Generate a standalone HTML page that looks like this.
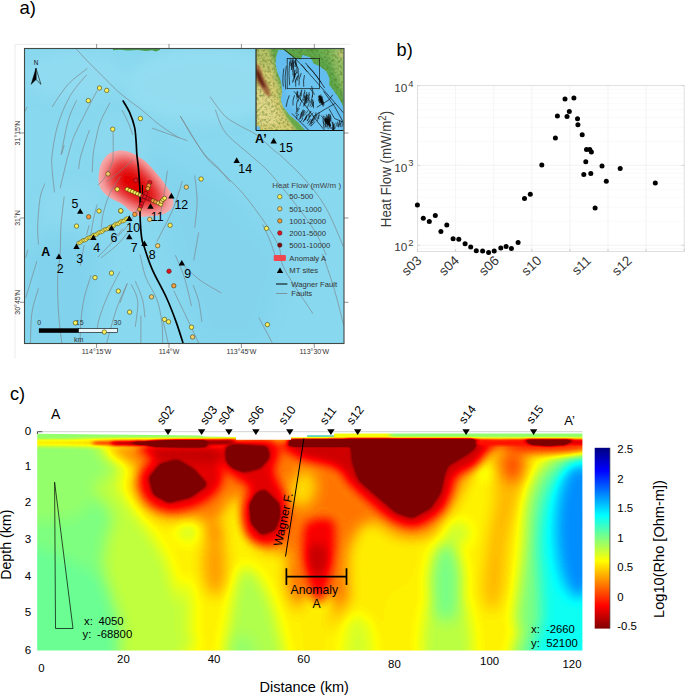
<!DOCTYPE html>
<html><head><meta charset="utf-8"><title>Figure</title>
<style>html,body{margin:0;padding:0;background:#fff}svg{display:block}text{font-family:"Liberation Sans",sans-serif}</style>
</head><body>
<svg width="685" height="695" viewBox="0 0 685 695">
<rect width="685" height="695" fill="#fff"/>

<defs>
<clipPath id="mapclip"><rect x="24.5" y="48.5" width="319.5" height="295"/></clipPath>
<clipPath id="insclip"><rect x="256" y="49" width="87.6" height="81.5"/></clipPath>
<clipPath id="hmclip"><rect x="37.2" y="431" width="545.2" height="219.6"/></clipPath>
<filter id="b8" x="-20%" y="-20%" width="140%" height="140%"><feGaussianBlur stdDeviation="7"/></filter>
<filter id="b6" x="-30%" y="-30%" width="160%" height="160%"><feGaussianBlur stdDeviation="5.5"/></filter>
<filter id="bz20" x="-20%" y="-20%" width="140%" height="140%"><feGaussianBlur stdDeviation="18"/></filter>
<filter id="bz8" x="-20%" y="-20%" width="140%" height="140%"><feGaussianBlur stdDeviation="7"/></filter>
<filter id="mott" x="0" y="0" width="100%" height="100%" color-interpolation-filters="sRGB"><feTurbulence type="fractalNoise" baseFrequency="0.05" numOctaves="3" seed="5" result="n"/><feColorMatrix in="n" type="matrix" values="0 0 0 0 0.28  0 0 0 0 0.42  0 0 0 0 0.12  0 0 0 1.3 -0.55"/></filter>
<filter id="blA" filterUnits="userSpaceOnUse" x="-40" y="385" width="765" height="330" color-interpolation-filters="sRGB"><feGaussianBlur stdDeviation="7"/></filter>
<filter id="blB" filterUnits="userSpaceOnUse" x="-40" y="385" width="765" height="330" color-interpolation-filters="sRGB"><feGaussianBlur stdDeviation="5"/></filter>
<filter id="blB2" filterUnits="userSpaceOnUse" x="-40" y="385" width="765" height="330" color-interpolation-filters="sRGB"><feGaussianBlur stdDeviation="2.2"/></filter>
<filter id="blC" filterUnits="userSpaceOnUse" x="-40" y="385" width="765" height="330" color-interpolation-filters="sRGB"><feGaussianBlur stdDeviation="2.5 0.9"/></filter>
<filter id="jet" filterUnits="userSpaceOnUse" x="-40" y="385" width="765" height="330" color-interpolation-filters="sRGB">
<feComponentTransfer>
<feFuncR type="table" tableValues="0 0 0 0 0.5 1 1 1 0.5 0.5 0.5"/>
<feFuncG type="table" tableValues="0 0 0.5 1 1 1 0.5 0 0 0 0"/>
<feFuncB type="table" tableValues="0.5 1 1 1 0.5 0 0 0 0 0 0"/>
</feComponentTransfer>
</filter>
<linearGradient id="cbar" x1="0" y1="0" x2="0" y2="1">
<stop offset="0" stop-color="#000080"/><stop offset="0.125" stop-color="#0000ff"/><stop offset="0.375" stop-color="#00ffff"/><stop offset="0.5" stop-color="#80ff80"/>
<stop offset="0.625" stop-color="#ffff00"/><stop offset="0.875" stop-color="#ff0000"/><stop offset="1" stop-color="#800000"/>
</linearGradient>
</defs>
<text x="19.5" y="13.6" font-size="18.6" fill="#000">a)</text>
<path d="M15 358.5 V44.3 H350" fill="none" stroke="#ebebeb" stroke-width="1"/>
<path d="M96.6 44 V49 M96.6 343 V348 M169.0 44 V49 M169.0 343 V348 M241.4 44 V49 M241.4 343 V348 M314.3 44 V49 M314.3 343 V348 M20 133.0 H25 M343.5 133.0 H348.5 M20 218.0 H25 M343.5 218.0 H348.5 M20 302.3 H25 M343.5 302.3 H348.5 " stroke="#777" stroke-width="0.8" fill="none"/>
<g clip-path="url(#mapclip)">
<rect x="24" y="48" width="320.5" height="296" fill="#88d8ef"/>
<g filter="url(#b8)" opacity="0.8">
<ellipse cx="205" cy="85" rx="80" ry="38" fill="#96def1"/>
<ellipse cx="75" cy="75" rx="50" ry="25" fill="#93dcf1"/>
<ellipse cx="120" cy="140" rx="30" ry="22" fill="#8dd9ef"/>
<path d="M24 250 L60 230 L100 250 L90 344 L24 344 Z" fill="#80d1ec"/>
<path d="M150 150 L230 190 L290 260 L260 344 L200 344 L170 250 Z" fill="#82d3ed"/>
<ellipse cx="70" cy="205" rx="30" ry="20" fill="#8fdaf0"/>
</g>
<path d="M113 48.5 H160 V49.8 L156 51.4 L152 50.2 L146 50.9 L138 50.0 L128 50.6 L120 49.8 L113 50.2 Z" fill="#4a9a48"/>
<clipPath id="blobclip"><path d="M98.5 177.9 C98.8 174.7 99.1 168.7 100.5 165.0 C101.9 161.3 104.6 157.9 106.7 155.7 C108.8 153.5 110.7 152.8 113.0 152.0 C115.3 151.2 118.0 150.6 120.7 150.6 C123.4 150.6 126.3 151.2 129.0 152.0 C131.7 152.8 134.3 154.0 137.1 155.7 C139.9 157.4 143.3 159.7 146.0 162.0 C148.7 164.3 151.0 167.0 153.4 169.7 C155.8 172.4 158.3 175.3 160.5 178.0 C162.7 180.7 164.6 183.6 166.3 186.1 C168.1 188.6 169.8 190.7 171.0 193.0 C172.2 195.3 173.0 197.9 173.3 200.1 C173.6 202.3 173.6 204.2 173.0 206.0 C172.4 207.8 171.2 209.3 169.8 210.6 C168.4 211.9 166.4 213.0 164.5 213.8 C162.6 214.6 160.7 215.1 158.1 215.6 C155.5 216.1 152.1 216.5 149.0 216.6 C145.9 216.7 142.4 217.0 139.4 216.2 C136.4 215.3 133.7 213.4 131.0 211.5 C128.3 209.6 125.8 206.6 123.1 204.7 C120.3 202.8 117.2 201.9 114.5 200.3 C111.8 198.8 108.9 197.1 106.7 195.4 C104.5 193.7 102.8 191.9 101.5 190.0 C100.2 188.1 99.5 186.0 99.0 184.0 C98.5 182.0 98.2 181.1 98.5 177.9 Z"/></clipPath>
<path d="M98.5 177.9 C98.8 174.7 99.1 168.7 100.5 165.0 C101.9 161.3 104.6 157.9 106.7 155.7 C108.8 153.5 110.7 152.8 113.0 152.0 C115.3 151.2 118.0 150.6 120.7 150.6 C123.4 150.6 126.3 151.2 129.0 152.0 C131.7 152.8 134.3 154.0 137.1 155.7 C139.9 157.4 143.3 159.7 146.0 162.0 C148.7 164.3 151.0 167.0 153.4 169.7 C155.8 172.4 158.3 175.3 160.5 178.0 C162.7 180.7 164.6 183.6 166.3 186.1 C168.1 188.6 169.8 190.7 171.0 193.0 C172.2 195.3 173.0 197.9 173.3 200.1 C173.6 202.3 173.6 204.2 173.0 206.0 C172.4 207.8 171.2 209.3 169.8 210.6 C168.4 211.9 166.4 213.0 164.5 213.8 C162.6 214.6 160.7 215.1 158.1 215.6 C155.5 216.1 152.1 216.5 149.0 216.6 C145.9 216.7 142.4 217.0 139.4 216.2 C136.4 215.3 133.7 213.4 131.0 211.5 C128.3 209.6 125.8 206.6 123.1 204.7 C120.3 202.8 117.2 201.9 114.5 200.3 C111.8 198.8 108.9 197.1 106.7 195.4 C104.5 193.7 102.8 191.9 101.5 190.0 C100.2 188.1 99.5 186.0 99.0 184.0 C98.5 182.0 98.2 181.1 98.5 177.9 Z" fill="#f5b2b3"/>
<g clip-path="url(#blobclip)"><g filter="url(#b6)">
<path d="M106.0 172.0 C107.0 167.5 110.3 161.5 114.0 159.0 C117.7 156.5 123.0 155.7 128.0 157.0 C133.0 158.3 139.2 162.8 144.0 167.0 C148.8 171.2 153.5 176.8 157.0 182.0 C160.5 187.2 164.2 193.7 165.0 198.0 C165.8 202.3 164.8 206.0 162.0 208.0 C159.2 210.0 152.7 210.3 148.0 210.0 C143.3 209.7 138.8 208.2 134.0 206.0 C129.2 203.8 123.3 200.3 119.0 197.0 C114.7 193.7 110.2 190.2 108.0 186.0 C105.8 181.8 105.0 176.5 106.0 172.0 Z" fill="#ec4040"/>
<path d="M114.0 174.0 C115.5 170.3 121.5 165.3 126.0 165.0 C130.5 164.7 136.5 168.3 141.0 172.0 C145.5 175.7 150.3 182.3 153.0 187.0 C155.7 191.7 158.2 197.2 157.0 200.0 C155.8 202.8 150.5 204.3 146.0 204.0 C141.5 203.7 134.8 200.8 130.0 198.0 C125.2 195.2 119.7 191.0 117.0 187.0 C114.3 183.0 112.5 177.7 114.0 174.0 Z" fill="#e00404"/>
</g></g>
<path d="M76.2 49.0 C78.3 51.3 84.5 58.0 89.0 62.7 C93.5 67.4 98.9 72.5 103.5 77.1 C108.1 81.6 112.0 86.0 116.4 90.0 C120.8 94.0 125.9 98.0 130.0 101.2 C134.1 104.4 135.9 105.2 140.9 109.2 C145.9 113.2 153.7 120.5 160.1 125.3 C166.5 130.1 176.2 136.0 179.4 138.1 M87.5 68.3 C84.3 71.0 74.1 77.9 68.2 84.3 C62.3 90.7 54.8 103.0 52.1 106.8 M86.6 74.7 C83.8 78.3 74.6 88.0 69.8 96.4 C65.0 104.8 60.7 115.5 57.7 125.3 C54.8 135.1 53.0 147.7 52.1 155.0 C51.2 162.3 51.7 162.9 52.1 169.1 C52.5 175.3 54.1 188.5 54.5 192.4 M76.5 100.4 C75.1 103.8 70.8 111.4 68.2 120.5 C65.6 129.6 62.2 149.2 61.0 155.0 M97.1 90.8 C95.5 93.9 91.2 101.8 87.4 109.2 C83.7 116.6 77.8 127.3 74.6 134.9 C71.4 142.5 69.5 150.6 68.2 155.0 C66.9 159.4 67.9 155.5 66.6 161.1 C65.2 166.7 61.2 183.8 60.1 188.4 M89.4 130.1 C88.0 134.2 82.8 148.5 81.0 155.0 C79.2 161.5 79.0 166.8 78.6 169.1 M109.9 102.8 C108.3 106.0 102.7 115.7 100.3 122.1 C97.9 128.5 96.7 135.9 95.5 141.4 C94.3 146.9 93.6 149.8 93.1 155.0 C92.6 160.2 92.4 169.4 92.3 172.3 M113.1 131.7 C113.1 135.6 113.4 149.6 113.1 155.0 C112.8 160.4 112.8 160.6 111.5 164.3 C110.2 168.0 107.4 173.6 105.1 177.1 C102.8 180.6 99.1 183.8 97.9 185.1 M122.0 110.0 C123.0 112.0 126.2 117.9 128.0 122.1 C129.8 126.2 132.0 132.8 132.8 134.9 M27.2 106.8 L24.8 111.6 M152.1 128.2 L187.4 140.6 M180.2 116.1 C182.2 119.5 188.2 130.0 192.3 136.5 C196.5 143.0 201.1 150.1 205.1 155.0 C209.1 159.9 212.2 161.4 216.4 165.9 C220.6 170.4 227.7 179.2 230.0 181.9 M64.2 145.0 L61.8 153.8 M44.9 183.5 C44.1 185.9 41.3 191.0 40.1 198.0 C38.9 205.0 38.0 217.5 37.7 225.3 C37.4 233.1 38.4 241.4 38.5 244.6 M64.2 196.4 C63.7 201.2 61.7 215.5 61.0 225.3 C60.3 235.1 60.6 246.4 60.1 255.0 C59.6 263.6 58.0 267.5 57.7 277.1 C57.4 286.7 57.8 301.4 58.5 312.4 C59.2 323.4 61.2 337.9 61.8 343.0 M97.1 204.4 C96.6 206.6 95.0 212.2 93.9 217.3 C92.8 222.4 91.2 232.0 90.7 234.9 M120.4 176.3 C118.7 179.1 112.7 187.2 109.9 193.2 C107.1 199.2 105.0 206.5 103.5 212.4 C102.0 218.3 101.5 225.8 101.1 228.5 M132.8 159.5 C131.1 161.1 127.2 165.4 122.8 169.1 C118.4 172.8 109.4 179.8 106.7 181.9 M89.1 225.3 L86.6 234.9 M122.8 228.5 C120.7 231.2 114.1 239.8 109.9 244.6 C105.8 249.3 99.9 254.9 97.9 257.0 M130.0 229.5 C128.0 231.9 122.8 239.3 118.0 244.0 C113.2 248.7 103.9 255.5 101.1 257.8 M167.4 170.7 C166.9 174.4 165.4 185.7 164.2 193.2 C163.0 200.7 160.8 211.9 160.1 215.7 M182.3 181.1 C180.8 185.8 177.2 199.1 173.0 209.2 C168.8 219.2 159.6 236.0 156.9 241.4 M194.7 175.5 C195.1 179.8 197.1 192.5 197.1 201.2 C197.1 209.9 195.1 223.3 194.7 227.7 M198.7 232.5 C198.0 236.2 195.5 250.4 194.7 255.0 C193.9 259.6 194.0 259.4 193.9 260.3 M140.0 205.0 C138.0 208.3 131.7 219.8 128.0 225.0 C124.3 230.2 119.7 234.2 118.0 236.0 M36.9 261.1 C35.7 265.1 31.5 279.0 29.6 285.1 C27.7 291.2 26.3 295.9 25.6 298.0 M38.5 288.4 C37.4 292.4 33.4 303.3 32.0 312.4 C30.6 321.5 30.7 337.9 30.4 343.0 M91.0 275.2 C89.9 279.0 85.9 290.4 84.2 298.0 C82.5 305.6 81.7 313.0 81.0 320.5 C80.3 328.0 80.2 339.2 80.0 343.0 M119.9 271.5 C117.7 275.9 110.2 289.8 106.7 298.0 C103.2 306.2 100.3 314.7 98.7 320.5 C97.1 326.3 97.4 330.9 97.1 333.0 M127.3 283.5 C125.5 287.8 119.8 299.3 116.4 309.2 C113.0 319.1 108.3 337.4 106.7 343.0 M84.2 245.0 L80.2 265.9 M28.0 249.8 L25.6 257.8 M175.4 255.4 C176.9 259.0 181.5 268.7 184.2 277.1 C186.9 285.5 190.3 301.2 191.5 306.0 M184.2 265.9 C186.9 268.3 194.1 275.8 200.3 280.3 C206.5 284.8 217.7 290.8 221.2 292.9 M193.1 285.1 C194.0 287.8 197.2 295.0 198.7 301.2 C200.2 307.4 201.4 318.6 201.9 322.1 M173.8 290.8 C175.5 294.4 180.0 303.7 184.2 312.4 C188.3 321.1 196.3 337.9 198.7 343.0 M140.1 254.6 C141.0 258.4 142.9 269.6 145.7 277.1 C148.5 284.6 154.2 292.1 156.9 299.6 C159.6 307.1 160.9 314.9 161.8 322.1 C162.8 329.3 162.5 339.5 162.6 343.0 M135.3 281.1 C136.5 284.2 140.9 293.6 142.5 299.6 C144.1 305.6 144.5 314.4 144.9 317.3 M131.2 284.3 C132.3 287.1 137.0 294.1 137.7 301.2 C138.4 308.3 135.7 322.6 135.3 326.9 M127.2 283.5 L120.0 302.8 M140.9 315.7 L140.9 343.0 M163.4 322.1 L168.2 343.0 M215.3 109.7 C217.0 113.5 219.6 125.0 225.4 132.5 C231.2 140.1 243.0 148.3 250.3 155.0 C257.6 161.7 261.7 164.1 269.3 172.4 C276.9 180.7 288.3 194.9 295.9 204.7 C303.5 214.5 309.8 222.9 314.9 231.3 C320.0 239.7 324.4 251.1 326.3 255.0 M210.1 96.7 C212.5 99.9 219.8 110.9 224.6 115.7 C229.4 120.5 233.7 122.1 239.0 125.3 C244.3 128.5 251.1 130.9 256.7 134.9 C262.3 138.9 268.5 145.7 272.8 149.4 C277.1 153.1 277.2 152.2 282.6 157.3 C288.0 162.4 298.1 171.5 305.4 180.0 C312.7 188.5 320.0 197.4 326.3 208.5 C332.6 219.6 340.5 240.2 343.4 246.5 M180.4 116.1 C184.4 122.6 197.9 145.9 204.5 155.0 C211.1 164.1 213.6 164.1 220.0 170.5 C226.4 176.9 235.2 184.4 242.8 193.3 C250.4 202.2 259.5 214.8 265.5 223.7 C271.5 232.6 275.6 238.9 278.8 246.5 C282.0 254.1 278.8 258.0 284.5 269.2 C290.2 280.4 308.2 306.4 313.0 313.8 M262.7 224.6 C263.8 227.0 267.2 233.8 269.3 238.9 C271.4 244.0 274.1 252.3 275.0 255.0 M258.9 317.6 L272.2 342.8 M322.5 254.0 C324.4 259.7 330.3 276.1 333.9 288.1 C337.5 300.1 342.3 319.8 344.0 326.1" fill="none" stroke="#7d8488" stroke-width="0.65"/>
<path d="M122.8 100.4 C123.9 102.4 127.6 108.0 129.6 112.4 C131.5 116.8 133.4 122.1 134.5 126.9 C135.6 131.7 135.7 136.7 136.1 141.4 C136.5 146.1 136.5 150.4 136.9 155.0 C137.3 159.6 138.0 162.7 138.5 169.1 C139.0 175.5 139.8 185.2 140.1 193.2 C140.4 201.2 139.8 209.8 140.1 217.3 C140.4 224.8 141.0 233.2 141.7 238.1 C142.4 243.0 142.4 241.4 144.1 246.6 C145.8 251.8 148.3 260.5 152.1 269.1 C155.8 277.7 162.6 289.2 166.6 298.0 C170.6 306.8 173.5 314.6 176.2 322.1 C178.9 329.6 181.9 339.5 183.0 343.0" fill="none" stroke="#000" stroke-width="1.7"/>
<path d="M142.5 185 V195" stroke="#000" stroke-width="1"/>
<rect x="38.9" y="328.3" width="39.7" height="4.5" fill="#000"/>
<rect x="78.6" y="328.6" width="39" height="3.9" fill="#e9f6fb" stroke="#000" stroke-width="0.6"/>
<g font-size="7" fill="#333" text-anchor="middle"><text x="39.3" y="324.6">0</text><text x="79.7" y="324.6">15</text><text x="117.4" y="324.6">30</text><text x="78.6" y="341.6">km</text></g>
<g stroke="#3a3200" stroke-width="0.55">
<circle cx="99.5" cy="88.0" r="2.2" fill="#fdf05a"/>
<circle cx="106.7" cy="90.4" r="2.2" fill="#fdf05a"/>
<circle cx="88.3" cy="100.6" r="2.2" fill="#fdf05a"/>
<circle cx="112.7" cy="129.2" r="2.2" fill="#fdf05a"/>
<circle cx="140.4" cy="118.5" r="2.2" fill="#fdf05a"/>
<circle cx="108.0" cy="173.9" r="2.2" fill="#f9cd6e"/>
<circle cx="117.2" cy="189.2" r="2.2" fill="#fdf05a"/>
<circle cx="99.0" cy="211.0" r="2.2" fill="#fdf05a"/>
<circle cx="120.7" cy="211.0" r="2.2" fill="#fdf05a"/>
<circle cx="88.6" cy="216.8" r="2.2" fill="#f79a3c"/>
<circle cx="76.5" cy="226.1" r="2.2" fill="#fdf05a"/>
<circle cx="135.7" cy="180.3" r="2.2" fill="#e01522" stroke="#5c0808"/>
<circle cx="201.1" cy="179.0" r="2.2" fill="#fdf05a"/>
<circle cx="186.3" cy="187.1" r="2.2" fill="#f9cd6e"/>
<circle cx="134.8" cy="214.4" r="2.2" fill="#f79a3c"/>
<circle cx="149.7" cy="219.4" r="2.2" fill="#f9cd6e"/>
<circle cx="170.1" cy="225.3" r="2.2" fill="#fdf05a"/>
<circle cx="157.7" cy="245.7" r="2.2" fill="#f9cd6e"/>
<circle cx="120.8" cy="210.8" r="2.2" fill="#fdf05a"/>
<circle cx="95.0" cy="277.6" r="2.2" fill="#fdf05a"/>
<circle cx="111.5" cy="273.1" r="2.2" fill="#fdf05a"/>
<circle cx="118.3" cy="291.1" r="2.2" fill="#fdf05a"/>
<circle cx="129.6" cy="312.1" r="2.2" fill="#fdf05a"/>
<circle cx="75.4" cy="322.9" r="2.2" fill="#fdf05a"/>
<circle cx="104.3" cy="332.0" r="2.2" fill="#fdf05a"/>
<circle cx="169.0" cy="271.2" r="2.2" fill="#e01522" stroke="#5c0808"/>
<circle cx="173.8" cy="285.8" r="2.2" fill="#f79a3c"/>
<circle cx="151.5" cy="296.9" r="2.2" fill="#f9cd6e"/>
<circle cx="164.5" cy="319.4" r="2.2" fill="#fdf05a"/>
<circle cx="168.5" cy="321.8" r="2.2" fill="#fdf05a"/>
<circle cx="191.5" cy="327.2" r="2.2" fill="#fdf05a"/>
<circle cx="192.6" cy="337.0" r="2.2" fill="#f9cd6e"/>
<circle cx="266.5" cy="228.4" r="2.2" fill="#fdf05a"/>
<circle cx="267.4" cy="324.6" r="2.2" fill="#fdf05a"/>
<circle cx="78.5" cy="243.0" r="1.8" fill="#fdf05a" stroke-width="0.4"/>
<circle cx="80.0" cy="242.8" r="1.8" fill="#fdf05a" stroke-width="0.4"/>
<circle cx="81.5" cy="241.4" r="1.8" fill="#fdf05a" stroke-width="0.4"/>
<circle cx="83.0" cy="240.3" r="1.8" fill="#fdf05a" stroke-width="0.4"/>
<circle cx="84.4" cy="240.3" r="1.8" fill="#fdf05a" stroke-width="0.4"/>
<circle cx="85.9" cy="239.7" r="1.8" fill="#fdf05a" stroke-width="0.4"/>
<circle cx="87.4" cy="238.2" r="1.8" fill="#fdf05a" stroke-width="0.4"/>
<circle cx="88.9" cy="237.5" r="1.8" fill="#fdf05a" stroke-width="0.4"/>
<circle cx="90.4" cy="237.5" r="1.8" fill="#fdf05a" stroke-width="0.4"/>
<circle cx="91.9" cy="236.5" r="1.8" fill="#fdf05a" stroke-width="0.4"/>
<circle cx="93.3" cy="235.1" r="1.8" fill="#fdf05a" stroke-width="0.4"/>
<circle cx="94.8" cy="234.8" r="1.8" fill="#fdf05a" stroke-width="0.4"/>
<circle cx="96.3" cy="234.6" r="1.8" fill="#fdf05a" stroke-width="0.4"/>
<circle cx="97.8" cy="233.3" r="1.8" fill="#fdf05a" stroke-width="0.4"/>
<circle cx="99.3" cy="232.2" r="1.8" fill="#fdf05a" stroke-width="0.4"/>
<circle cx="100.8" cy="232.1" r="1.8" fill="#fdf05a" stroke-width="0.4"/>
<circle cx="102.3" cy="231.6" r="1.8" fill="#fdf05a" stroke-width="0.4"/>
<circle cx="103.7" cy="230.1" r="1.8" fill="#fdf05a" stroke-width="0.4"/>
<circle cx="105.2" cy="229.3" r="1.8" fill="#fdf05a" stroke-width="0.4"/>
<circle cx="106.7" cy="229.3" r="1.8" fill="#fdf05a" stroke-width="0.4"/>
<circle cx="108.2" cy="228.5" r="1.8" fill="#fdf05a" stroke-width="0.4"/>
<circle cx="109.7" cy="227.0" r="1.8" fill="#fdf05a" stroke-width="0.4"/>
<circle cx="111.2" cy="226.6" r="1.8" fill="#fdf05a" stroke-width="0.4"/>
<circle cx="112.7" cy="226.5" r="1.8" fill="#fdf05a" stroke-width="0.4"/>
<circle cx="114.1" cy="225.3" r="1.8" fill="#fdf05a" stroke-width="0.4"/>
<circle cx="115.6" cy="224.0" r="1.8" fill="#fdf05a" stroke-width="0.4"/>
<circle cx="117.1" cy="223.9" r="1.8" fill="#fdf05a" stroke-width="0.4"/>
<circle cx="118.6" cy="223.5" r="1.8" fill="#fdf05a" stroke-width="0.4"/>
<circle cx="120.1" cy="222.1" r="1.8" fill="#fdf05a" stroke-width="0.4"/>
<circle cx="121.6" cy="221.1" r="1.8" fill="#fdf05a" stroke-width="0.4"/>
<circle cx="123.0" cy="221.2" r="1.8" fill="#fdf05a" stroke-width="0.4"/>
<circle cx="124.5" cy="220.4" r="1.8" fill="#fdf05a" stroke-width="0.4"/>
<circle cx="126.0" cy="218.9" r="1.8" fill="#fdf05a" stroke-width="0.4"/>
<circle cx="127.5" cy="218.4" r="1.8" fill="#fdf05a" stroke-width="0.4"/>
<circle cx="127.2" cy="189.2" r="2.0" fill="#fdf05a"/>
<circle cx="129.8" cy="190.4" r="2.0" fill="#fdf05a"/>
<circle cx="132.4" cy="191.5" r="2.0" fill="#fdf05a"/>
<circle cx="135.0" cy="192.7" r="2.0" fill="#fdf05a"/>
<circle cx="137.5" cy="193.8" r="2.0" fill="#fdf05a"/>
<circle cx="140.1" cy="195.0" r="2.0" fill="#f9cd6e"/>
<circle cx="142.7" cy="196.1" r="2.0" fill="#e01522" stroke="#5c0808"/>
<circle cx="145.3" cy="197.3" r="2.0" fill="#e01522" stroke="#5c0808"/>
<circle cx="147.9" cy="198.4" r="2.0" fill="#e01522" stroke="#5c0808"/>
<circle cx="150.5" cy="199.6" r="2.0" fill="#e01522" stroke="#5c0808"/>
<circle cx="153.0" cy="200.7" r="2.0" fill="#f79a3c"/>
<circle cx="155.6" cy="201.9" r="2.0" fill="#f79a3c"/>
<circle cx="158.2" cy="203.0" r="2.0" fill="#f9cd6e"/>
<circle cx="160.8" cy="204.2" r="2.0" fill="#fdf05a"/>
<circle cx="161.5" cy="201.5" r="2.0" fill="#f9cd6e"/>
<circle cx="163.0" cy="199.6" r="2.0" fill="#fdf05a"/>
<circle cx="164.6" cy="198.2" r="2.0" fill="#fdf05a"/>
<circle cx="149.9" cy="182.5" r="2.0" fill="#e01522" stroke="#5c0808"/>
<circle cx="148.8" cy="185.6" r="2.0" fill="#f79a3c"/>
<circle cx="147.8" cy="188.6" r="2.0" fill="#f79a3c"/>
<circle cx="145.8" cy="193.4" r="2.0" fill="#e01522" stroke="#5c0808"/>
<circle cx="144.6" cy="196.8" r="2.0" fill="#e01522" stroke="#5c0808"/>
<circle cx="143.2" cy="200.4" r="2.0" fill="#e01522" stroke="#5c0808"/>
<circle cx="141.8" cy="203.8" r="2.0" fill="#e01522" stroke="#5c0808"/>
<circle cx="140.6" cy="206.6" r="2.0" fill="#e01522" stroke="#5c0808"/>
<circle cx="139.4" cy="209.4" r="2.0" fill="#f79a3c"/>
</g>
<g fill="#000">
<path d="M55.7 259.0 L62.1 259.0 L58.9 253.4 Z"/>
<path d="M73.3 249.0 L79.7 249.0 L76.5 243.4 Z"/>
<path d="M90.2 240.1 L96.6 240.1 L93.4 234.5 Z"/>
<path d="M77.0 213.8 L83.4 213.8 L80.2 208.2 Z"/>
<path d="M108.3 230.5 L114.7 230.5 L111.5 224.9 Z"/>
<path d="M126.1 239.3 L132.5 239.3 L129.3 233.7 Z"/>
<path d="M141.2 246.1 L147.6 246.1 L144.4 240.5 Z"/>
<path d="M178.6 265.5 L185.0 265.5 L181.8 259.9 Z"/>
<path d="M126.1 220.9 L132.5 220.9 L129.3 215.3 Z"/>
<path d="M147.3 208.8 L153.7 208.8 L150.5 203.2 Z"/>
<path d="M168.2 198.4 L174.6 198.4 L171.4 192.8 Z"/>
<path d="M233.5 162.9 L239.9 162.9 L236.7 157.3 Z"/>
<path d="M270.5 143.4 L276.9 143.4 L273.7 137.8 Z"/>
</g>
<g font-size="12.4" fill="#000" text-anchor="middle">
<text x="60.1" y="273.0">2</text>
<text x="79.7" y="263.0">3</text>
<text x="96.6" y="252.3">4</text>
<text x="74.9" y="207.8">5</text>
<text x="113.9" y="242.0">6</text>
<text x="134.1" y="252.0">7</text>
<text x="152.1" y="258.5">8</text>
<text x="187.8" y="277.8">9</text>
<text x="133.2" y="232.2">10</text>
<text x="157.3" y="220.7">11</text>
<text x="181.3" y="209.1">12</text>
<text x="245.2" y="172.9">14</text>
<text x="285.9" y="151.6">15</text>
</g>
<text x="45.7" y="255.6" font-size="12.4" font-weight="bold" text-anchor="middle">A</text>
<text x="255" y="143" font-size="12.4" font-weight="bold">A’</text>
<text x="36" y="65" font-size="6.3" text-anchor="middle" fill="#111">N</text>
<path d="M36 68.3 L31.2 84.3 L36 79.5 Z" fill="#000" stroke="#000" stroke-width="0.5"/>
<path d="M36 68.3 L40.9 84.3 L36 79.5 Z" fill="none" stroke="#000" stroke-width="0.6"/>
<text x="272.2" y="188.2" font-size="8" fill="#444">Heat Flow (mW/m )</text>
<g stroke="#3a3200" stroke-width="0.55">
<circle cx="279.8" cy="196.7" r="2.2" fill="#fdf05a"/>
<circle cx="279.8" cy="208.8" r="2.2" fill="#f9cd6e"/>
<circle cx="279.8" cy="220.9" r="2.2" fill="#f79a3c"/>
<circle cx="279.8" cy="233.0" r="2.2" fill="#e01522" stroke="#5c0808"/>
<circle cx="279.8" cy="245.1" r="2.2" fill="#7a0c0c" stroke="#5c0808"/>
</g>
<g font-size="7.7" fill="#333">
<text x="289.3" y="199.4">50-500</text>
<text x="289.3" y="211.5">501-1000</text>
<text x="289.3" y="223.6">1001-2000</text>
<text x="289.3" y="235.7">2001-5000</text>
<text x="289.3" y="247.8">5001-10000</text>
<text x="289.3" y="261">Anomaly A</text><text x="289.3" y="273">MT sites</text><text x="291.2" y="286.8">Wagner Fault</text><text x="291.2" y="296.3">Faults</text>
</g>
<rect x="273.7" y="254.9" width="12.2" height="6.1" fill="#f0474f" rx="1"/>
<g fill="#000"><path d="M276.8 273.1 L283.2 273.1 L280.0 267.5 Z"/></g>
<path d="M276 284 H287.4" stroke="#000" stroke-width="1.05"/>
<path d="M276 293.5 H287.4" stroke="#7d8488" stroke-width="0.8"/>
</g>
<g clip-path="url(#insclip)">
<g transform="translate(254 46) scale(0.13430)">
<rect x="0" y="0" width="700" height="660" fill="#5fa94b"/>
<g filter="url(#bz20)">
<path d="M560 20 L700 20 L700 400 L640 300 L590 170 Z" fill="#93bf64"/>
<path d="M610 20 L700 20 L700 120 L650 90 Z" fill="#c9c877"/>
<path d="M470 20 L560 20 L580 110 L520 90 Z" fill="#74b253"/>
<path d="M0 0 L110 0 L150 120 L165 230 L205 330 L235 450 L300 540 L360 600 L300 660 L0 660 Z" fill="#d6cc72"/>
<path d="M0 260 L90 330 L160 470 L200 560 L120 600 L0 560 Z" fill="#e3d98a"/>
<path d="M0 0 L110 0 L140 130 L100 200 L40 120 L0 110 Z" fill="#b9c268"/>
</g>
<rect x="0" y="0" width="700" height="660" filter="url(#mott)" fill="#000"/>
<g filter="url(#bz8)">
<path d="M170 300 L215 450 L260 510 L330 570 L390 630 L330 640 L250 540 L215 470 L185 380 Z" fill="#63a94a"/>
<path d="M10 120 L45 160 L72 235 L105 300 L125 370 L95 370 L60 320 L25 270 L10 220 Z" fill="#a0673a"/>
<path d="M15 165 L42 195 L64 250 L90 310 L66 305 L35 260 L15 220 Z" fill="#5e1c12"/>
</g>
<path d="M180 30 L225 30 L290 85 L350 100 L362 65 L420 85 L445 130 L490 150 L540 190 L562 240 L560 290 L585 320 L620 370 L650 418 L672 470 L700 500 L700 640 L390 640 L330 570 L260 510 L215 450 L200 400 L210 340 L200 260 L175 200 L160 130 L165 80 Z" fill="#63bdee"/>
<path d="M230 130 L330 120 L430 200 L520 330 L560 460 L640 560 L640 640 L430 640 L330 520 L250 420 L240 300 Z" fill="#6cc4f0" filter="url(#bz8)"/>
<path d="M0 600 L40 596 L48 640 L0 640 Z" fill="#63bdee"/>
<rect x="247" y="92" width="241" height="226" fill="none" stroke="#111" stroke-width="5"/>
<g fill="none" stroke="#0a0a0a" stroke-width="5" stroke-linecap="round">
<path d="M222 25 L300 85 L370 160 L450 250 L520 330 L600 420 L668 500"/>
<path d="M385 128 L470 230 L525 310"/>
<path d="M400 150 L440 190 L500 270"/>
<path d="M355 140 L395 190"/>
<path d="M300 340 L380 440 L470 560 L535 640"/>
<path d="M520 340 L600 450 L660 560 L690 640"/>
<path d="M470 455 L560 400 L585 365"/>
<path d="M440 525 L530 470 L600 430"/>
<path d="M560 470 L600 540 L660 565"/>
<path d="M500 520 L560 590 L600 640"/>
<path d="M285 505 L380 600 L420 640"/>
<path d="M240 150 Q225 230 235 320"/>
<path d="M222 170 Q210 250 218 300"/>
<path d="M265 120 Q255 200 265 290"/>
<path d="M300 110 Q330 150 320 200"/>
<path d="M280 130 Q300 170 290 215"/>
<path d="M310 130 Q340 170 330 210"/>
<path d="M330 215 Q300 260 310 300"/>
<path d="M350 205 Q330 250 335 290"/>
<path d="M375 220 Q365 260 370 300"/>
<path d="M262 370 Q245 410 240 450"/>
<path d="M300 370 Q285 410 290 440"/>
<path d="M325 400 Q312 430 318 470"/>
<path d="M430 300 Q445 340 435 380"/>
<path d="M420 320 L450 360"/>
</g>
<g fill="none" stroke="#0a0a0a" stroke-width="4.2" stroke-linecap="round">
<path d="M285 135 Q285 121 283 106"/>
<path d="M288 128 Q285 114 284 100"/>
<path d="M277 141 Q267 116 269 92"/>
<path d="M279 176 Q278 154 281 132"/>
<path d="M313 131 Q307 113 313 96"/>
<path d="M275 148 Q276 132 275 115"/>
<path d="M300 151 Q291 136 296 122"/>
<path d="M282 175 Q280 158 276 140"/>
<path d="M290 154 Q286 131 290 108"/>
<path d="M295 171 Q292 147 296 123"/>
<path d="M317 142 Q308 118 309 94"/>
<path d="M293 137 Q293 113 290 89"/>
<path d="M310 154 Q310 132 307 110"/>
<path d="M289 189 Q293 169 291 149"/>
<path d="M288 261 Q301 237 304 213"/>
<path d="M300 230 Q304 218 308 206"/>
<path d="M298 224 Q294 202 302 180"/>
<path d="M297 231 Q302 218 308 206"/>
<path d="M305 270 Q310 248 323 227"/>
<path d="M299 239 Q303 217 319 194"/>
<path d="M298 227 Q302 209 303 191"/>
<path d="M300 212 Q305 195 307 179"/>
<path d="M323 256 Q331 236 334 217"/>
<path d="M287 271 Q301 249 305 227"/>
<path d="M346 401 Q340 377 349 352"/>
<path d="M323 382 Q318 362 326 342"/>
<path d="M319 378 Q312 357 321 337"/>
<path d="M380 413 Q379 394 382 375"/>
<path d="M335 383 Q345 355 356 327"/>
<path d="M353 372 Q350 352 355 332"/>
<path d="M378 387 Q378 358 378 329"/>
<path d="M330 411 Q338 388 331 366"/>
<path d="M378 421 Q375 401 383 380"/>
<path d="M368 406 Q370 388 380 369"/>
<path d="M367 449 Q382 424 386 398"/>
<path d="M367 383 Q364 363 376 343"/>
<path d="M319 393 Q329 367 325 342"/>
<path d="M340 447 Q349 420 363 393"/>
<path d="M388 399 Q393 381 394 363"/>
<path d="M418 447 Q430 424 432 400"/>
<path d="M372 435 Q388 411 397 388"/>
<path d="M395 396 Q409 377 412 359"/>
<path d="M421 421 Q432 393 436 365"/>
<path d="M384 402 Q393 374 393 346"/>
<path d="M375 444 Q385 423 400 401"/>
<path d="M404 404 Q410 374 411 345"/>
<path d="M398 457 Q412 430 414 403"/>
<path d="M386 401 Q392 383 395 364"/>
<path d="M388 423 Q391 394 398 366"/>
<path d="M393 425 Q410 406 413 387"/>
<path d="M378 550 Q384 538 392 525"/>
<path d="M347 508 Q356 495 366 482"/>
<path d="M396 558 Q406 540 414 521"/>
<path d="M402 518 Q407 503 420 489"/>
<path d="M397 556 Q416 536 422 515"/>
<path d="M369 562 Q383 544 390 526"/>
<path d="M368 561 Q384 538 394 514"/>
<path d="M410 590 Q426 570 428 551"/>
<path d="M409 524 Q409 506 423 487"/>
<path d="M348 521 Q368 501 375 481"/>
<path d="M345 565 Q360 552 363 539"/>
<path d="M415 527 Q427 513 440 498"/>
<path d="M422 580 Q429 562 436 543"/>
<path d="M360 532 Q363 511 381 489"/>
<path d="M384 548 Q392 530 396 513"/>
<path d="M370 519 Q394 500 402 482"/>
<path d="M341 539 Q346 516 357 493"/>
<path d="M336 548 Q348 529 368 510"/>
<path d="M315 542 Q317 525 333 508"/>
<path d="M314 522 Q325 511 323 500"/>
<path d="M348 538 Q346 518 358 498"/>
<path d="M360 514 Q374 497 373 481"/>
<path d="M325 490 Q325 478 337 465"/>
<path d="M320 487 Q322 473 329 459"/>
<path d="M355 499 Q358 487 366 475"/>
<path d="M312 504 Q317 485 321 466"/>
<path d="M490 409 Q494 393 488 378"/>
<path d="M500 414 Q498 395 495 376"/>
<path d="M515 450 Q510 426 499 402"/>
<path d="M510 403 Q499 389 500 375"/>
<path d="M490 425 Q478 410 479 395"/>
<path d="M516 436 Q508 419 509 401"/>
<path d="M500 411 Q489 392 485 374"/>
<path d="M521 442 Q524 425 513 409"/>
<path d="M502 403 Q493 386 485 369"/>
<path d="M504 389 Q496 376 497 363"/>
<path d="M491 401 Q482 389 479 376"/>
<path d="M496 424 Q493 400 484 377"/>
<path d="M513 437 Q516 419 502 402"/>
<path d="M490 423 Q493 409 485 395"/>
<path d="M518 428 Q508 403 510 379"/>
<path d="M504 420 Q506 395 498 371"/>
<path d="M552 616 Q545 590 547 565"/>
<path d="M523 552 Q524 536 515 519"/>
<path d="M551 596 Q548 571 545 546"/>
<path d="M519 606 Q518 583 516 561"/>
<path d="M555 549 Q547 531 553 512"/>
<path d="M540 603 Q539 579 524 554"/>
<path d="M549 578 Q549 554 540 529"/>
<path d="M557 588 Q548 572 546 556"/>
<path d="M561 563 Q552 548 556 533"/>
<path d="M534 599 Q529 574 530 549"/>
<path d="M549 576 Q552 559 543 543"/>
<path d="M528 612 Q528 596 528 581"/>
<path d="M567 614 Q558 596 559 577"/>
<path d="M572 558 Q570 541 568 524"/>
<path d="M571 558 Q577 536 569 513"/>
<path d="M557 565 Q549 543 556 520"/>
<path d="M521 581 Q511 561 513 542"/>
<path d="M537 564 Q540 549 536 534"/>
<path d="M564 560 Q570 535 564 509"/>
<path d="M540 582 Q535 553 527 524"/>
<path d="M541 572 Q531 557 533 542"/>
<path d="M564 565 Q560 547 564 528"/>
<path d="M552 568 Q552 540 539 511"/>
<path d="M563 601 Q563 571 562 542"/>
<path d="M559 551 Q561 530 556 508"/>
<path d="M563 574 Q547 547 543 520"/>
<path d="M605 611 Q607 592 593 573"/>
<path d="M595 625 Q589 608 585 591"/>
<path d="M594 603 Q587 583 580 563"/>
<path d="M589 637 Q583 620 589 604"/>
<path d="M591 591 Q584 580 584 568"/>
<path d="M591 623 Q589 603 589 584"/>
<path d="M600 616 Q590 601 593 587"/>
<path d="M597 639 Q593 623 585 608"/>
<path d="M619 599 Q613 586 610 572"/>
<path d="M599 644 Q590 623 596 602"/>
<path d="M451 544 Q457 530 461 517"/>
<path d="M449 532 Q461 515 461 497"/>
<path d="M484 519 Q485 507 484 496"/>
<path d="M471 558 Q480 542 480 526"/>
<path d="M469 540 Q464 523 468 505"/>
<path d="M482 539 Q479 527 484 516"/>
<path d="M443 461 Q444 450 443 439"/>
<path d="M441 450 Q434 434 443 418"/>
<path d="M429 453 Q441 438 441 423"/>
<path d="M438 446 Q443 427 441 407"/>
<path d="M432 433 Q434 416 438 400"/>
<path d="M399 577 Q400 568 417 560"/>
<path d="M404 565 Q417 556 420 547"/>
<path d="M423 578 Q429 560 441 543"/>
<path d="M428 562 Q433 547 444 531"/>
<path d="M437 571 Q441 560 448 549"/>
<path d="M422 595 Q424 582 434 570"/>
<path d="M439 552 Q442 542 448 532"/>
<path d="M427 594 Q447 579 453 564"/>
<path d="M633 597 Q627 579 637 562"/>
<path d="M647 602 Q640 589 643 576"/>
<path d="M628 603 Q619 584 622 565"/>
<path d="M657 598 Q659 580 651 562"/>
<path d="M639 586 Q645 572 637 559"/>
<path d="M630 598 Q629 588 632 578"/>
</g>
<path d="M485 365 Q515 380 512 440 Q495 430 488 400 Z" fill="#0a0a0a"/>
<path d="M525 540 Q560 530 575 600 Q545 590 530 570 Z" fill="#0a0a0a"/>
</g>
</g>
<path d="M256 49 V130.5 H343.5" fill="none" stroke="#111" stroke-width="1"/>
<rect x="24.5" y="48.5" width="319.5" height="295" fill="none" stroke="#424a48" stroke-width="1.1"/>
<g font-size="7" fill="#333" text-anchor="middle">
<text x="96.6" y="353.8">114°15'W</text>
<text x="169.0" y="353.8">114°W</text>
<text x="241.4" y="353.8">113°45'W</text>
<text x="314.3" y="353.8">113°30'W</text>
<text transform="translate(19.5 133.0) rotate(-90)">31°15'N</text>
<text transform="translate(19.5 218.0) rotate(-90)">31°N</text>
<text transform="translate(19.5 302.3) rotate(-90)">30°45'N</text>
</g>
<text x="396.6" y="56" font-size="18.2" fill="#000">b)</text>
<path d="M417.5 249.0 H684.2 M417.5 221.3 H684.2 M417.5 207.2 H684.2 M417.5 197.2 H684.2 M417.5 189.5 H684.2 M417.5 183.2 H684.2 M417.5 177.8 H684.2 M417.5 173.2 H684.2 M417.5 169.1 H684.2 M417.5 141.4 H684.2 M417.5 127.4 H684.2 M417.5 117.4 H684.2 M417.5 109.6 H684.2 M417.5 103.3 H684.2 M417.5 98.0 H684.2 M417.5 93.3 H684.2 M417.5 89.3 H684.2 M417.5 249.0 H684.2 " stroke="#f8f8f8" stroke-width="0.7" fill="none"/>
<path d="M455.6 85.6 V251.5 M493.7 85.6 V251.5 M531.8 85.6 V251.5 M569.9 85.6 V251.5 M608.0 85.6 V251.5 M646.1 85.6 V251.5 M417.5 165.4 H684.2 M417.5 245.3 H684.2 " stroke="#f0f0f0" stroke-width="0.8" fill="none"/>
<rect x="417.5" y="85.6" width="266.7" height="165.9" fill="none" stroke="#dcdcdc" stroke-width="0.9"/>
<path d="M417.5 251.5 v-2.5 M455.6 251.5 v-2.5 M493.7 251.5 v-2.5 M531.8 251.5 v-2.5 M569.9 251.5 v-2.5 M608.0 251.5 v-2.5 M646.1 251.5 v-2.5 M684.2 251.5 v-2.5 M417.5 85.6 h2.5 M684.2 85.6 h-2.5 M417.5 165.4 h2.5 M684.2 165.4 h-2.5 M417.5 245.3 h2.5 M684.2 245.3 h-2.5 " stroke="#c8c8c8" stroke-width="0.8" fill="none"/>
<g fill="#000">
<circle cx="417.4" cy="205.0" r="2.5"/>
<circle cx="423.3" cy="218.3" r="2.5"/>
<circle cx="429.3" cy="221.6" r="2.5"/>
<circle cx="435.3" cy="215.6" r="2.5"/>
<circle cx="440.9" cy="231.5" r="2.5"/>
<circle cx="446.8" cy="224.9" r="2.5"/>
<circle cx="453.1" cy="238.8" r="2.5"/>
<circle cx="458.8" cy="239.2" r="2.5"/>
<circle cx="465.1" cy="243.8" r="2.5"/>
<circle cx="470.7" cy="247.1" r="2.5"/>
<circle cx="476.3" cy="250.8" r="2.5"/>
<circle cx="482.6" cy="251.1" r="2.5"/>
<circle cx="488.6" cy="252.4" r="2.5"/>
<circle cx="494.2" cy="251.1" r="2.5"/>
<circle cx="500.8" cy="248.1" r="2.5"/>
<circle cx="506.1" cy="246.5" r="2.5"/>
<circle cx="511.4" cy="248.4" r="2.5"/>
<circle cx="518.1" cy="242.5" r="2.5"/>
<circle cx="524.5" cy="198.6" r="2.5"/>
<circle cx="530.3" cy="194.3" r="2.5"/>
<circle cx="541.8" cy="165.1" r="2.5"/>
<circle cx="555.4" cy="138.0" r="2.5"/>
<circle cx="557.4" cy="115.9" r="2.5"/>
<circle cx="565.0" cy="99.0" r="2.5"/>
<circle cx="567.0" cy="116.5" r="2.5"/>
<circle cx="569.3" cy="111.6" r="2.5"/>
<circle cx="573.9" cy="98.0" r="2.5"/>
<circle cx="577.5" cy="118.8" r="2.5"/>
<circle cx="577.9" cy="124.8" r="2.5"/>
<circle cx="582.2" cy="134.7" r="2.5"/>
<circle cx="586.5" cy="149.6" r="2.5"/>
<circle cx="589.8" cy="149.6" r="2.5"/>
<circle cx="591.4" cy="151.9" r="2.5"/>
<circle cx="585.8" cy="161.8" r="2.5"/>
<circle cx="583.8" cy="174.4" r="2.5"/>
<circle cx="590.8" cy="173.4" r="2.5"/>
<circle cx="595.1" cy="208.1" r="2.5"/>
<circle cx="602.0" cy="166.1" r="2.5"/>
<circle cx="606.3" cy="181.3" r="2.5"/>
<circle cx="620.2" cy="168.4" r="2.5"/>
<circle cx="655.3" cy="183.0" r="2.5"/>
</g>
<g fill="#3a3a3a" font-size="11.8">
<text x="407.4" y="91.7" text-anchor="end">10</text><text x="408.3" y="86.5" font-size="9.4">4</text>
<text x="407.4" y="171.5" text-anchor="end">10</text><text x="408.3" y="166.3" font-size="9.4">3</text>
<text x="407.4" y="251.4" text-anchor="end">10</text><text x="408.3" y="246.2" font-size="9.4">2</text>
</g>
<text transform="translate(391.1 227.2) rotate(-90)" font-size="14" fill="#3a3a3a" textLength="116.3" lengthAdjust="spacingAndGlyphs">Heat Flow (mW/m<tspan font-size="10" dy="-5.2">2</tspan><tspan dy="5.2">)</tspan></text>
<g fill="#333" font-size="13.4" text-anchor="end">
<text transform="translate(422.5 261.7) rotate(-43)">s03</text>
<text transform="translate(459.9 261.7) rotate(-43)">s04</text>
<text transform="translate(499.9 261.7) rotate(-43)">s06</text>
<text transform="translate(542.4 261.7) rotate(-43)">s10</text>
<text transform="translate(592.0 261.7) rotate(-43)">s11</text>
<text transform="translate(632.8 261.7) rotate(-43)">s12</text>
</g>
<text x="10" y="399.8" font-size="18.2" fill="#000">c)</text>
<g clip-path="url(#hmclip)"><g filter="url(#jet)">
<g filter="url(#blA)"><rect x="-60" y="380" width="800" height="340" fill="#666666"/>
<path d="M-20.0 550.0 C-3.3 524.2 58.3 555.0 80.0 565.0 C101.7 575.0 104.7 584.2 110.0 610.0 C115.3 635.8 133.7 701.7 112.0 720.0 C90.3 738.3 2.0 748.3 -20.0 720.0 C-42.0 691.7 -36.7 575.8 -20.0 550.0 Z" fill="#626262"/>
<path d="M-20.0 430.0 C4.2 416.7 102.0 423.3 125.0 430.0 C148.0 436.7 123.0 458.3 118.0 470.0 C113.0 481.7 104.7 491.7 95.0 500.0 C85.3 508.3 79.2 518.3 60.0 520.0 C40.8 521.7 -6.7 525.0 -20.0 510.0 C-33.3 495.0 -44.2 443.3 -20.0 430.0 Z" fill="#6a6a6a"/>
<path d="M97.4 446.0 C97.4 449.5 113.0 463.0 112.5 470.0 C112.0 477.0 94.4 480.4 94.4 488.0 C94.4 495.6 110.5 506.9 112.5 515.5 C114.5 524.1 108.0 531.1 106.5 539.7 C105.0 548.3 102.5 557.5 103.5 567.0 C104.5 576.5 109.5 587.0 112.5 597.0 C115.5 607.0 119.5 615.7 121.6 627.0 C123.7 638.3 111.6 658.7 125.0 665.0 C138.4 671.3 190.2 668.3 202.0 665.0 C213.8 661.7 198.3 652.3 196.0 645.0 C193.7 637.7 190.8 628.0 188.0 621.0 C185.2 614.0 181.5 609.5 179.0 603.0 C176.5 596.5 175.0 589.0 173.0 582.0 C171.0 575.0 169.9 567.8 166.9 560.8 C163.9 553.8 159.3 546.8 154.8 539.7 C150.3 532.7 144.2 525.0 139.7 518.5 C135.2 511.9 131.1 505.9 127.6 500.4 C124.1 494.9 119.1 490.8 118.6 485.3 C118.1 479.8 125.6 473.2 124.6 467.2 C123.6 461.1 117.0 452.5 112.5 449.0 C108.0 445.5 97.4 442.5 97.4 446.0 Z" fill="#737373"/>
<path d="M112.5 449.0 C114.9 456.0 123.6 461.1 124.6 467.2 C125.6 473.2 118.1 479.8 118.6 485.3 C119.1 490.8 124.1 494.9 127.6 500.4 C131.1 505.9 135.2 511.9 139.7 518.5 C144.2 525.0 150.3 532.7 154.8 539.7 C159.3 546.8 163.9 553.8 166.9 560.8 C169.9 567.8 171.0 575.0 173.0 582.0 C175.0 589.0 176.5 596.5 179.0 603.0 C181.5 609.5 185.2 614.0 188.0 621.0 C190.8 628.0 193.7 637.7 196.0 645.0 C198.3 652.3 149.3 661.7 202.0 665.0 C254.7 668.3 459.8 672.5 512.0 665.0 C564.2 657.5 513.7 634.2 515.0 620.0 C516.3 605.8 518.5 592.5 520.0 580.0 C521.5 567.5 522.8 558.1 524.0 545.0 C525.2 531.9 524.5 513.9 527.0 501.6 C529.5 489.3 533.5 478.8 539.0 471.0 C544.5 463.2 549.8 460.2 560.0 455.0 C570.2 449.8 593.3 445.0 600.0 440.0 C606.7 435.0 681.7 427.5 600.0 425.0 C518.3 422.5 191.2 421.0 110.0 425.0 C28.8 429.0 110.1 442.0 112.5 449.0 Z" fill="#828282"/>
<path d="M238.0 575.0 C241.3 567.2 245.3 565.5 250.0 568.0 C254.7 570.5 261.3 580.5 266.0 590.0 C270.7 599.5 275.5 612.5 278.0 625.0 C280.5 637.5 289.5 658.3 281.0 665.0 C272.5 671.7 235.5 673.3 227.0 665.0 C218.5 656.7 228.2 630.0 230.0 615.0 C231.8 600.0 234.7 582.8 238.0 575.0 Z" fill="#707070"/>
<ellipse cx="243.0" cy="650.0" rx="12.0" ry="15.0" fill="#6a6a6a"/>
<path d="M347.0 626.0 C349.2 617.8 354.2 615.7 358.0 616.0 C361.8 616.3 368.0 619.8 370.0 628.0 C372.0 636.2 374.2 658.8 370.0 665.0 C365.8 671.2 348.8 671.5 345.0 665.0 C341.2 658.5 344.8 634.2 347.0 626.0 Z" fill="#777777"/>
<path d="M430.0 600.0 C436.5 589.2 457.3 589.2 464.0 600.0 C470.7 610.8 476.5 654.2 470.0 665.0 C463.5 675.8 431.7 675.8 425.0 665.0 C418.3 654.2 423.5 610.8 430.0 600.0 Z" fill="#727272"/>
<ellipse cx="446.0" cy="582.0" rx="16.0" ry="40.0" fill="#656565"/>
<ellipse cx="457.0" cy="533.0" rx="13.0" ry="12.0" fill="#757575"/>
<ellipse cx="486.0" cy="471.0" rx="6.0" ry="7.0" fill="#727272"/>
<ellipse cx="186.0" cy="615.0" rx="7.0" ry="35.0" fill="#757575"/>
<path d="M620.0 440.0 C611.7 441.5 599.7 446.0 590.0 449.0 C580.3 452.0 569.5 453.8 562.0 458.0 C554.5 462.2 549.7 466.7 545.0 474.0 C540.3 481.3 536.3 490.2 534.0 502.0 C531.7 513.8 532.0 532.0 531.0 545.0 C530.0 558.0 529.2 567.5 528.0 580.0 C526.8 592.5 525.3 605.8 524.0 620.0 C522.7 634.2 500.7 657.5 520.0 665.0 C539.3 672.5 620.0 702.5 640.0 665.0 C660.0 627.5 643.3 477.5 640.0 440.0 C636.7 402.5 628.3 438.5 620.0 440.0 Z" fill="#666666"/>
<path d="M640.0 452.0 C632.0 417.6 604.3 456.4 592.0 458.7 C579.7 461.0 573.0 461.8 566.0 466.0 C559.0 470.2 554.2 476.5 550.0 484.0 C545.8 491.5 543.0 500.8 541.0 511.0 C539.0 521.2 538.2 533.5 538.0 545.0 C537.8 556.5 539.5 567.5 540.0 580.0 C540.5 592.5 541.3 605.8 541.0 620.0 C540.7 634.2 521.5 657.5 538.0 665.0 C554.5 672.5 623.0 700.5 640.0 665.0 C657.0 629.5 648.0 486.4 640.0 452.0 Z" fill="#4f4f4f"/>
<ellipse cx="579.0" cy="530.0" rx="23.0" ry="68.0" fill="#363636"/>
<ellipse cx="596.0" cy="520.0" rx="14.0" ry="50.0" fill="#353535"/>
<path d="M128.0 446.0 C185.0 441.7 420.7 438.5 480.0 440.0 C539.3 441.5 486.3 448.3 484.0 455.0 C481.7 461.7 471.3 471.3 466.0 480.0 C460.7 488.7 458.0 498.0 452.0 507.0 C446.0 516.0 438.7 529.2 430.0 534.0 C421.3 538.8 409.2 538.0 400.0 536.0 C390.8 534.0 382.0 523.0 375.0 522.0 C368.0 521.0 361.7 525.7 358.0 530.0 C354.3 534.3 354.2 538.0 353.0 548.0 C351.8 558.0 353.8 578.0 351.0 590.0 C348.2 602.0 341.5 611.7 336.0 620.0 C330.5 628.3 324.0 640.3 318.0 640.0 C312.0 639.7 305.2 627.2 300.0 618.0 C294.8 608.8 288.8 596.7 287.0 585.0 C285.2 573.3 289.3 553.5 289.0 548.0 C288.7 542.5 289.8 552.0 285.0 552.0 C280.2 552.0 266.5 552.0 260.0 548.0 C253.5 544.0 249.3 536.3 246.0 528.0 C242.7 519.7 243.3 501.8 240.0 498.0 C236.7 494.2 228.8 498.8 226.0 505.0 C223.2 511.2 226.5 530.0 223.0 535.0 C219.5 540.0 207.5 537.5 205.0 535.0 C202.5 532.5 212.5 522.5 208.0 520.0 C203.5 517.5 187.7 521.3 178.0 520.0 C168.3 518.7 157.3 517.0 150.0 512.0 C142.7 507.0 136.0 497.7 134.0 490.0 C132.0 482.3 139.0 473.3 138.0 466.0 C137.0 458.7 71.0 450.3 128.0 446.0 Z" fill="#9b9b9b"/>
<path d="M206.0 542.0 C209.2 535.7 219.7 534.0 223.0 540.0 C226.3 546.0 227.3 568.5 226.0 578.0 C224.7 587.5 218.7 597.0 215.0 597.0 C211.3 597.0 205.5 587.2 204.0 578.0 C202.5 568.8 202.8 548.3 206.0 542.0 Z" fill="#939393"/>
<ellipse cx="230.0" cy="521.0" rx="15.0" ry="8.0" fill="#838383"/>
<ellipse cx="303.0" cy="489.0" rx="13.0" ry="19.0" fill="#868686" transform="rotate(12.0 303.0 489.0)"/>
<ellipse cx="238.0" cy="541.0" rx="8.0" ry="8.0" fill="#828282"/>
<ellipse cx="188.0" cy="530.0" rx="10.0" ry="11.0" fill="#757575"/>
<path d="M478.0 440.0 C484.3 435.0 522.0 435.0 530.0 440.0 C538.0 445.0 527.7 460.8 526.0 470.0 C524.3 479.2 523.0 483.3 520.0 495.0 C517.0 506.7 510.8 524.2 508.0 540.0 C505.2 555.8 505.7 578.0 503.0 590.0 C500.3 602.0 495.3 612.0 492.0 612.0 C488.7 612.0 483.7 602.0 483.0 590.0 C482.3 578.0 486.0 555.0 488.0 540.0 C490.0 525.0 494.3 511.7 495.0 500.0 C495.7 488.3 494.8 480.0 492.0 470.0 C489.2 460.0 471.7 445.0 478.0 440.0 Z" fill="#8e8e8e"/>
<ellipse cx="513.0" cy="465.0" rx="11.0" ry="17.0" fill="#a3a3a3"/>
<path d="M350.0 545.0 C354.2 533.3 366.7 530.5 375.0 530.0 C383.3 529.5 392.5 538.3 400.0 542.0 C407.5 545.7 418.3 545.7 420.0 552.0 C421.7 558.3 415.3 572.0 410.0 580.0 C404.7 588.0 393.0 590.0 388.0 600.0 C383.0 610.0 384.0 637.5 380.0 640.0 C376.0 642.5 369.0 621.7 364.0 615.0 C359.0 608.3 352.3 611.7 350.0 600.0 C347.7 588.3 345.8 556.7 350.0 545.0 Z" fill="#838383"/>
<path d="M300.0 600.0 C305.3 593.3 330.7 593.3 335.0 600.0 C339.3 606.7 328.8 629.2 326.0 640.0 C323.2 650.8 321.5 660.8 318.0 665.0 C314.5 669.2 307.5 669.2 305.0 665.0 C302.5 660.8 303.8 650.8 303.0 640.0 C302.2 629.2 294.7 606.7 300.0 600.0 Z" fill="#838383"/></g>
<g filter="url(#blB)"><path d="M140.0 478.0 C141.2 471.0 147.8 462.3 154.0 458.0 C160.2 453.7 169.3 452.0 177.0 452.0 C184.7 452.0 192.5 455.0 200.0 458.0 C207.5 461.0 219.0 464.7 222.0 470.0 C225.0 475.3 222.0 484.2 218.0 490.0 C214.0 495.8 206.2 501.5 198.0 505.0 C189.8 508.5 177.5 511.8 169.0 511.0 C160.5 510.2 151.8 505.5 147.0 500.0 C142.2 494.5 138.8 485.0 140.0 478.0 Z" fill="#b8b8b8"/>
<path d="M142.0 446.0 C153.7 443.8 216.0 443.2 230.0 446.0 C244.0 448.8 231.0 460.2 226.0 463.0 C221.0 465.8 211.0 463.7 200.0 463.0 C189.0 462.3 169.7 461.8 160.0 459.0 C150.3 456.2 130.3 448.2 142.0 446.0 Z" fill="#bebebe"/>
<path d="M219.0 447.0 C221.3 442.7 227.2 441.2 236.0 440.0 C244.8 438.8 264.8 437.8 272.0 440.0 C279.2 442.2 278.7 447.7 279.0 453.0 C279.3 458.3 273.2 465.0 274.0 472.0 C274.8 479.0 281.8 487.8 284.0 495.0 C286.2 502.2 287.3 508.0 287.0 515.0 C286.7 522.0 285.7 532.2 282.0 537.0 C278.3 541.8 270.7 544.3 265.0 544.0 C259.3 543.7 251.7 540.7 248.0 535.0 C244.3 529.3 242.8 517.8 243.0 510.0 C243.2 502.2 250.2 493.3 249.0 488.0 C247.8 482.7 240.5 481.7 236.0 478.0 C231.5 474.3 224.8 471.2 222.0 466.0 C219.2 460.8 216.7 451.3 219.0 447.0 Z" fill="#b8b8b8"/>
<path d="M296.0 440.0 C327.7 437.3 454.3 438.0 486.0 440.0 C517.7 442.0 488.0 447.7 486.0 452.0 C484.0 456.3 479.0 462.0 474.0 466.0 C469.0 470.0 460.0 471.3 456.0 476.0 C452.0 480.7 452.7 488.0 450.0 494.0 C447.3 500.0 445.7 506.7 440.0 512.0 C434.3 517.3 423.7 524.5 416.0 526.0 C408.3 527.5 401.3 524.7 394.0 521.0 C386.7 517.3 379.3 510.2 372.0 504.0 C364.7 497.8 356.0 490.0 350.0 484.0 C344.0 478.0 345.0 472.7 336.0 468.0 C327.0 463.3 302.7 460.7 296.0 456.0 C289.3 451.3 264.3 442.7 296.0 440.0 Z" fill="#bcbcbc"/>
<path d="M308.0 522.0 C312.8 518.7 327.5 517.0 332.0 520.0 C336.5 523.0 334.8 533.3 335.0 540.0 C335.2 546.7 334.2 552.7 333.0 560.0 C331.8 567.3 330.3 576.8 328.0 584.0 C325.7 591.2 321.8 602.3 319.0 603.0 C316.2 603.7 313.3 594.8 311.0 588.0 C308.7 581.2 306.3 570.0 305.0 562.0 C303.7 554.0 302.5 546.7 303.0 540.0 C303.5 533.3 303.2 525.3 308.0 522.0 Z" fill="#b4b4b4"/>
<ellipse cx="317.0" cy="559.0" rx="12.0" ry="16.0" fill="#bdbdbd"/>
<path d="M500.0 440.0 C511.7 438.2 575.0 438.3 590.0 440.0 C605.0 441.7 595.0 447.8 590.0 450.0 C585.0 452.2 571.7 452.8 560.0 453.0 C548.3 453.2 530.0 453.2 520.0 451.0 C510.0 448.8 488.3 441.8 500.0 440.0 Z" fill="#afafaf"/></g>
<g filter="url(#blB2)"><path d="M20.0 439.8 L70.0 439.6 L126.0 439.2 L126.0 446.6 L70.0 446.0 L20.0 445.4 Z" fill="#888888"/>
<path d="M150.3 478.0 L160.9 465.0 L177.0 461.0 L193.0 470.0 L206.0 484.6 L190.5 496.0 L168.7 501.5 L154.4 493.5 Z" fill="#ededed"/>
<path d="M226.8 447.6 L234.2 445.0 L266.5 447.5 L268.3 457.3 L259.5 467.2 L244.1 471.0 L233.0 467.2 L227.3 461.0 Z" fill="#ededed"/>
<path d="M264.0 490.8 L278.4 504.4 L278.9 516.8 L274.2 529.0 L262.0 533.4 L252.1 522.5 L250.6 504.4 L256.6 494.5 Z" fill="#ededed"/>
<path d="M345.0 438.0 L472.0 438.0 L474.2 447.3 L464.0 454.8 L447.0 464.7 L443.0 474.6 L439.4 492.0 L429.5 506.9 L412.0 516.6 L397.0 511.6 L377.1 494.5 L360.0 479.6 L353.8 462.2 L352.3 446.0 Z" fill="#ededed"/></g>
<g filter="url(#blC)"><rect x="0" y="425" width="700" height="13" fill="#6a6a6a"/>
<rect x="330" y="425" width="60" height="12.5" fill="#7e7e7e"/>
<path d="M93.0 441.2 L120.0 440.8 L120.0 445.6 L93.0 444.8 Z" fill="#a3a3a3"/>
<path d="M112.0 441.0 L142.0 440.6 L142.0 446.0 L112.0 445.6 Z" fill="#bebebe"/>
<path d="M131.0 442.8 L155.0 440.8 L175.0 440.0 L206.0 440.0 L206.0 446.8 L175.0 446.8 L155.0 446.2 Z" fill="#f9f9f9"/>
<path d="M204.0 439.6 L234.0 439.6 L234.0 444.6 L204.0 445.6 Z" fill="#c6c6c6"/>
<path d="M290.0 439.6 L478.0 439.6 L478.0 446.0 L290.0 446.0 Z" fill="#f9f9f9"/>
<path d="M474.0 439.8 L530.0 439.8 L530.0 445.5 L474.0 445.5 Z" fill="#afafaf"/>
<path d="M526.0 439.5 L572.0 439.5 L566.0 444.5 L548.0 445.6 L531.0 444.5 Z" fill="#f5f5f5"/>
<path d="M570.0 439.6 L600.0 439.6 L600.0 445.0 L570.0 445.0 Z" fill="#b8b8b8"/></g>
</g></g>
<path d="M37 431 H583 V433.6 H334 V435.6 H307 V437.2 H291 V439.8 H236 V437 L204 436.6 L200 435.4 L37 433.8 Z" fill="#fff"/>
<path d="M307.3 436 H334" stroke="#35b6ea" stroke-width="1.1"/>
<path d="M37.2 433.8 V431.7 H582.4" fill="none" stroke="#cdcdcd" stroke-width="0.9"/>
<path d="M37.5 434 V431.7 H42.3" fill="none" stroke="#555" stroke-width="1"/>
<g fill="#000">
<path d="M164.3 429.3 h7.4 l-3.7 5.6 Z"/>
<path d="M197.9 429.3 h7.4 l-3.7 5.6 Z"/>
<path d="M225.2 429.3 h7.4 l-3.7 5.6 Z"/>
<path d="M252.2 429.3 h7.4 l-3.7 5.6 Z"/>
<path d="M286.1 429.3 h7.4 l-3.7 5.6 Z"/>
<path d="M327.2 429.3 h7.4 l-3.7 5.6 Z"/>
<path d="M354.0 429.3 h7.4 l-3.7 5.6 Z"/>
<path d="M462.4 429.3 h7.4 l-3.7 5.6 Z"/>
<path d="M529.9 429.3 h7.4 l-3.7 5.6 Z"/>
</g>
<g font-size="12.3" fill="#000">
<text transform="translate(162.5 425.5) rotate(-52)">s02</text>
<text transform="translate(205.8 425.5) rotate(-52)">s03</text>
<text transform="translate(222.9 425.5) rotate(-52)">s04</text>
<text transform="translate(252.4 425.5) rotate(-52)">s06</text>
<text transform="translate(284.3 425.5) rotate(-52)">s10</text>
<text transform="translate(325.4 425.5) rotate(-52)">s11</text>
<text transform="translate(352.2 425.5) rotate(-52)">s12</text>
<text transform="translate(464.6 424.5) rotate(-52)" font-size="12">s14</text>
<text transform="translate(532.1 424.5) rotate(-52)" font-size="12">s15</text>
</g>
<text x="51" y="418.7" font-size="14" fill="#000">A</text>
<text x="564.3" y="424.8" font-size="13" fill="#000">A’</text>
<path d="M303.9 438.5 L285.5 556.5" stroke="#000" stroke-width="1"/>
<text transform="translate(281.6 546.8) rotate(-78)" font-size="12" fill="#000">Wagner F.</text>
<path d="M286.4 568.3 V585 M286.4 576.6 H346.5 M346.5 568.3 V585" stroke="#000" stroke-width="1.7" fill="none"/>
<text x="314.3" y="594" font-size="12.2" text-anchor="middle">Anomaly</text><text x="316.5" y="608" font-size="12.2" text-anchor="middle">A</text>
<path d="M54.6 482.2 L73 628.5 H55.5 Z" fill="none" stroke="#000" stroke-width="0.7"/>
<g font-size="11.3" fill="#000"><text x="84" y="625">x:</text><text x="98.5" y="625">4050</text><text x="82.6" y="638.3">y:</text><text x="97" y="638.3">-68800</text>
<text x="531" y="633.4">x:</text><text x="546" y="633.4">-2660</text><text x="531" y="647">y:</text><text x="546.3" y="647">52100</text></g>
<g font-size="11.6" fill="#000" text-anchor="end">
<text x="31.2" y="434.8">0</text>
<text x="31.2" y="470.2">1</text>
<text x="31.2" y="505.6">2</text>
<text x="31.2" y="543.1">3</text>
<text x="31.2" y="579.9">4</text>
<text x="31.2" y="616.2">5</text>
<text x="31.2" y="653.8">6</text>
</g>
<g font-size="11.4" fill="#000" text-anchor="middle">
<text x="41.4" y="671.6">0</text>
<text x="123.4" y="662.6">20</text>
<text x="214.0" y="662.6">40</text>
<text x="303.7" y="662.6">60</text>
<text x="394.4" y="667.6">80</text>
<text x="489.6" y="665.2">100</text>
<text x="572.0" y="667.8">120</text>
</g>
<text x="304.2" y="692.4" font-size="14.5" fill="#000" text-anchor="middle">Distance (km)</text>
<text transform="translate(11.3 544.7) rotate(-90)" font-size="14.2" fill="#000" text-anchor="middle">Depth (km)</text>
<rect x="594.7" y="447.8" width="15.2" height="180.8" fill="url(#cbar)"/>
<path d="M609.9 447.8 V628.6" stroke="#333" stroke-width="0.7"/>
<g font-size="11.4" fill="#000">
<text x="617.3" y="453.4">2.5</text>
<text x="617.3" y="482.9">2</text>
<text x="617.3" y="512.4">1.5</text>
<text x="617.3" y="541.9">1</text>
<text x="617.3" y="571.4">0.5</text>
<text x="617.3" y="600.9">0</text>
<text x="617.3" y="630.4">-0.5</text>
</g>
<text transform="translate(663.9 549) rotate(-90)" font-size="14.6" fill="#000" text-anchor="middle">Log10(Rho [Ohm-m])</text>
</svg>
</body></html>
